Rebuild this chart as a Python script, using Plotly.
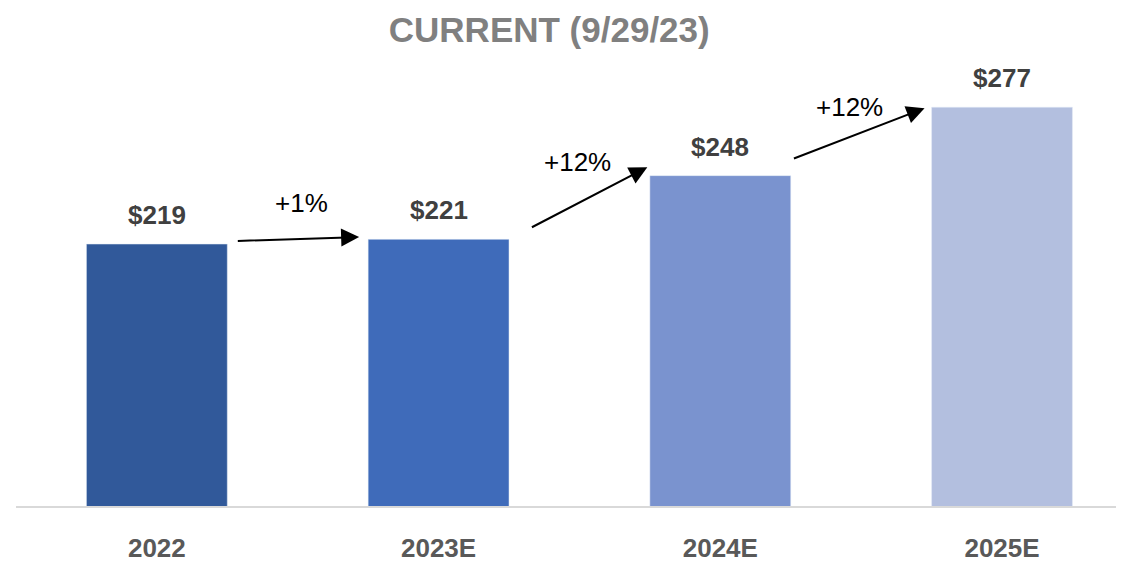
import plotly.graph_objects as go

categories = ["2022", "2023E", "2024E", "2025E"]
values = [219, 221, 248, 277]
labels = ["$219", "$221", "$248", "$277"]
colors = ["#31599A", "#3F6BBA", "#7A93CF", "#B3BFDF"]
growth_labels = ["+1%", "+12%", "+12%"]

FONT = "Liberation Sans, Arial, sans-serif"

fig = go.Figure()
fig.add_trace(go.Bar(
    x=list(range(len(categories))), y=values, marker_color=colors, width=0.5,
    hoverinfo="skip",
))

# value labels above bars
for i, (v, t) in enumerate(zip(values, labels)):
    fig.add_annotation(x=i, y=v, xref="x", yref="y", text=f"<b>{t}</b>",
                       showarrow=False, yanchor="middle", yshift=29,
                       font=dict(family=FONT, size=26, color="#404040"))

# arrows between bars (data coordinates)
arrows = [
    ((0.282, 220.3), (0.718, 222.0)),
    ((1.326, 225.8), (1.741, 251.6)),
    ((2.256, 255.0), (2.725, 276.6)),
]
label_pos = [(0.513, 236.4), (1.492, 253.8), (2.458, 277.0)]

for (tail, head) in arrows:
    fig.add_annotation(x=head[0], y=head[1], ax=tail[0], ay=tail[1],
                       xref="x", yref="y", axref="x", ayref="y",
                       showarrow=True, arrowhead=2, arrowsize=1.8, arrowwidth=2,
                       arrowcolor="black", text="")
for (pos, t) in zip(label_pos, growth_labels):
    fig.add_annotation(x=pos[0], y=pos[1], xref="x", yref="y", text=t,
                       showarrow=False,
                       font=dict(family=FONT, size=26, color="black"))

fig.update_layout(
    width=1116, height=554,
    margin=dict(l=8, r=0, t=52, b=56),
    paper_bgcolor="white", plot_bgcolor="white",
    showlegend=False,
    title=dict(text="<b>CURRENT (9/29/23)</b>", x=0.485, xanchor="center",
               y=0.960, yanchor="middle",
               font=dict(family=FONT, size=35, color="#808080")),
)
fig.update_xaxes(
    tickmode="array", tickvals=list(range(len(categories))), ticktext=categories,
    range=[-0.5, 3.433], showgrid=False, zeroline=False,
    showline=True, linecolor="#D9D9D9", linewidth=2, ticks="",
    tickfont=dict(family=FONT, size=26, color="#595959", weight="bold"),
    ticklabelstandoff=18,
)
fig.update_yaxes(range=[108, 297], visible=False, showgrid=False)

fig.write_html("out.html")
